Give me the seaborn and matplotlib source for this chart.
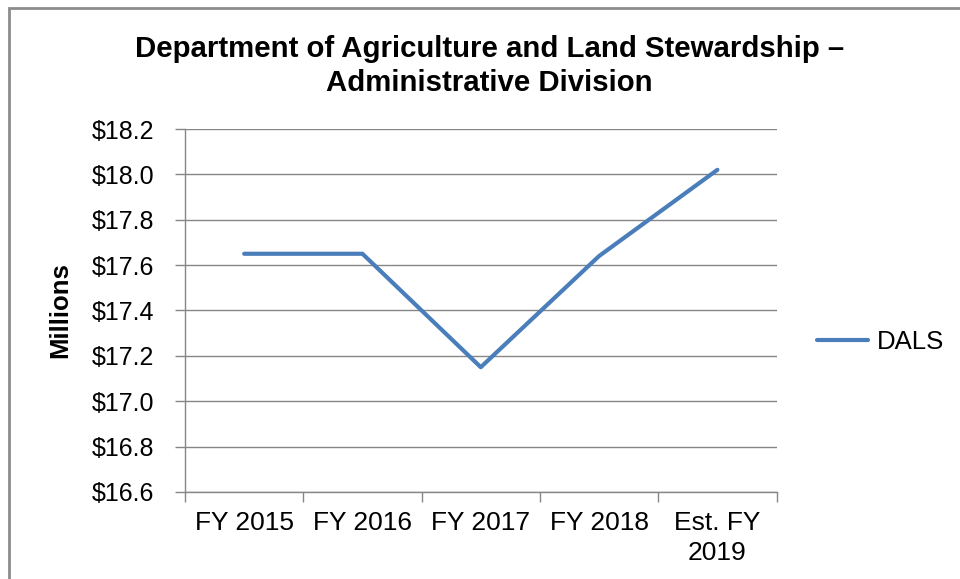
import pandas as pd
import seaborn as sns
import matplotlib.pyplot as plt
from matplotlib.patches import Rectangle
from matplotlib.ticker import MultipleLocator, FuncFormatter

years = ['FY 2015', 'FY 2016', 'FY 2017', 'FY 2018', 'Est. FY\n2019']
dals = [17.65, 17.65, 17.15, 17.64, 18.02]

data = pd.DataFrame({'Year': years, 'Millions': dals})

sns.set_style('white')
plt.rcParams['font.family'] = ['Liberation Sans', 'DejaVu Sans']
plt.rcParams['text.color'] = 'black'
plt.rcParams['axes.labelcolor'] = 'black'

fig = plt.figure(figsize=(9.6, 5.79), dpi=100)
ax = fig.add_axes([0.1927, 0.1503, 0.6162, 0.6269])

sns.lineplot(x=range(len(years)), y=dals, ax=ax, color='#4A7EBB', lw=3, label='DALS')

ax.set_xlim(-0.5, len(years) - 0.5)
ax.set_ylim(16.6, 18.2)
ax.yaxis.set_major_locator(MultipleLocator(0.2))
ax.yaxis.set_major_formatter(FuncFormatter(lambda v, p: '${:.1f}'.format(v)))
ax.grid(axis='y', color='#868686', lw=1)
ax.set_axisbelow(True)

ax.set_xticks(range(len(years)))
ax.set_xticklabels(years, fontsize=19, linespacing=1.3)
ax.set_xticks([i - 0.5 for i in range(len(years) + 1)], minor=True)
ax.tick_params(axis='x', which='major', length=0, pad=14, labelcolor='black')
ax.tick_params(axis='x', which='minor', length=7, color='#868686', width=1, direction='out')
ax.tick_params(axis='y', length=7, color='#868686', width=1, direction='out', labelsize=18, pad=15,
               labelcolor='black')
ax.tick_params(axis='x', which='minor', bottom=True)
ax.tick_params(axis='y', left=True)

for side in ['top', 'right']:
    ax.spines[side].set_visible(False)
for side in ['left', 'bottom']:
    ax.spines[side].set_color('#868686')
    ax.spines[side].set_linewidth(1)

ax.set_xlabel('')
ax.set_ylabel('Millions', fontsize=18.5, fontweight='bold', labelpad=14, color='black')

ax.get_legend().remove()
fig.legend(loc='center left', bbox_to_anchor=(0.851, 0.409), frameon=False,
           fontsize=18.5, handlelength=2.0, handletextpad=0.35,
           borderpad=0, borderaxespad=0)

fig.text(0.51, 0.886, 'Department of Agriculture and Land Stewardship \u2013\nAdministrative Division',
         ha='center', va='center', fontsize=21.2, fontweight='bold', linespacing=1.25, color='black')

fig.patches.append(Rectangle((9 / 960, -0.05), 1.05, 1.05 - 8 / 579, transform=fig.transFigure,
                             fill=False, edgecolor='#8c8c8c', lw=2))

fig.savefig('out.png', dpi=100, facecolor='white')
